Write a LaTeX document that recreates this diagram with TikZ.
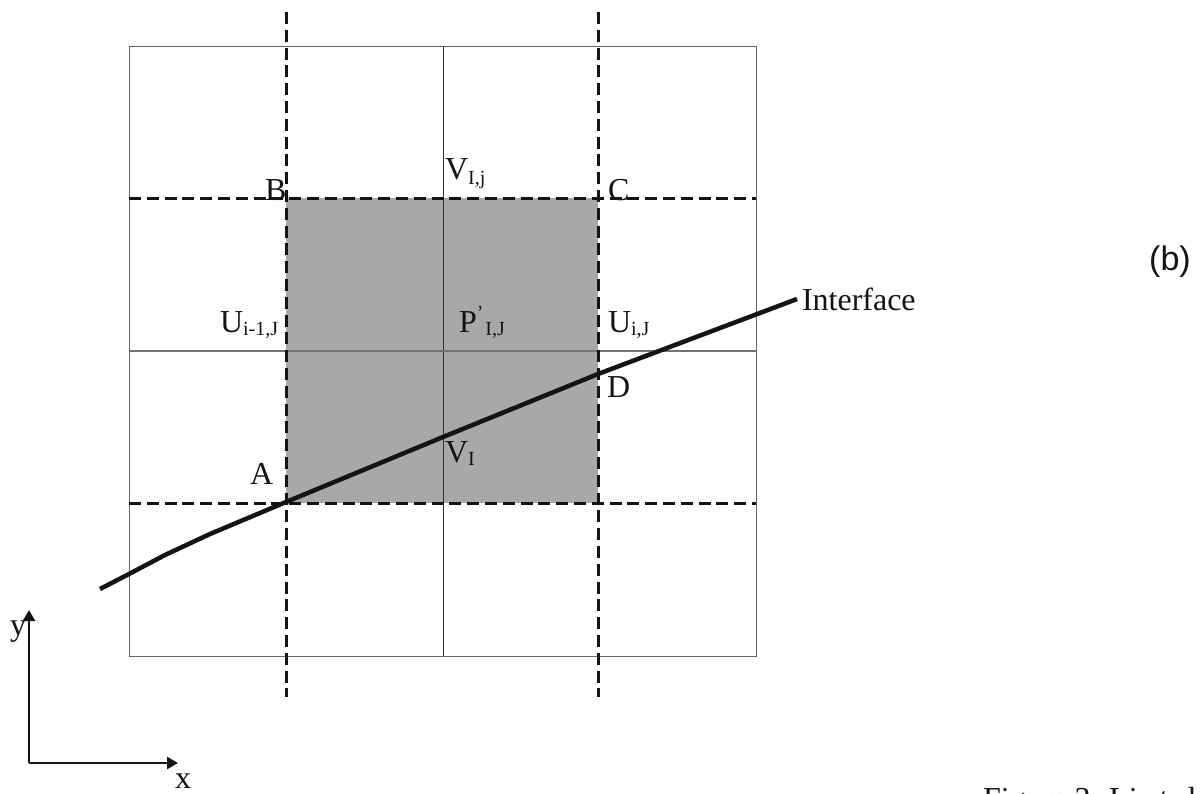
\documentclass[tikz,border=0pt]{standalone}
\usepackage{fontspec}
\setmainfont{Liberation Serif}
\newfontfamily\sansf{Liberation Sans}
\usetikzlibrary{arrows.meta}
\tikzset{
  lab/.style={inner sep=0pt,outer sep=0pt,text=black!92,font=\fontsize{32}{32}\selectfont,anchor=base west},
  outer line/.style={draw=black!60,line width=1pt},
  mid vert/.style={draw=black!80,line width=1pt},
  mid horz/.style={draw=black!55,line width=1.4pt},
  dash line/.style={draw=black!92,line width=3pt,dash pattern=on 12pt off 5.8pt},
  iface/.style={draw=black!92,line width=4.5pt,line join=round},
  axis/.style={draw=black!92,line width=2.8pt,-{Triangle[length=11pt,width=12pt]}}
}
\newcommand{\subs}[2]{\raisebox{-#1pt}{\fontsize{20}{20}\selectfont #2}}
\begin{document}
\begin{tikzpicture}[x=1pt,y=-1pt]
\useasboundingbox (0,0) rectangle (1202,793);
\clip (0,0) rectangle (1202,793);
\fill[white] (0,0) rectangle (1202,793);
% coordinates
\coordinate (gTL) at (129,46);
\coordinate (gBR) at (756,656);
\coordinate (vT) at (443,46);
\coordinate (vB) at (443,656);
\coordinate (hL) at (129,351);
\coordinate (hR) at (756,351);
\coordinate (dv1T) at (286,12);
\coordinate (dv1B) at (286,697);
\coordinate (dv2T) at (598,12);
\coordinate (dv2B) at (598,697);
\coordinate (dh1L) at (129,198);
\coordinate (dh1R) at (756,198);
\coordinate (dh2L) at (129,503);
\coordinate (dh2R) at (756,503);
\coordinate (cB) at (286,198);
\coordinate (cD) at (598,503);
% shaded cell
\fill[fill=black!34] (cB) rectangle (cD);
% grid
\draw[outer line] (gTL) rectangle (gBR);
\draw[mid vert] (vT) -- (vB);
\draw[mid horz] (hL) -- (hR);
% dashed
\draw[dash line] (dv1T) -- (dv1B);
\draw[dash line] (dv2T) -- (dv2B);
\draw[dash line] (dh1L) -- (dh1R);
\draw[dash line] (dh2L) -- (dh2R);
% interface
\coordinate (i0) at (100,589);
\coordinate (i1) at (129,574);
\coordinate (i2) at (165,555);
\coordinate (i3) at (210,534);
\coordinate (i4) at (286,502);
\coordinate (i5) at (443,437);
\coordinate (i6) at (598,374);
\coordinate (i7) at (797,299);
\draw[iface] (i0) -- (i1) -- (i2) -- (i3) -- (i4) -- (i5) -- (i6) -- (i7);
% labels
\node[lab] (lB) at (265,200) {B};
\node[lab] (lC) at (608,200) {C};
\node[lab] (lA) at (250,484) {A};
\node[lab] (lD) at (607,397) {D};
\node[lab] (lV) at (445,179) {V\subs{5}{I,j}};
\node[lab] (lVi) at (445,462) {V\subs{3}{I}};
\node[lab] (lUl) at (220,332) {U\subs{3}{i-1,J}};
\node[lab] (lUr) at (608,332) {U\subs{3}{i,J}};
\node[lab] (lP) at (459,332) {P\raisebox{13pt}{\fontsize{20}{20}\selectfont '}\hspace{2pt}\subs{3}{I,J}};
\node[lab] (lI) at (802,310) {Interface};
\node[lab] (ly) at (10,635) {y};
\node[lab] (lx) at (175,788) {x};
\node[inner sep=0pt,anchor=base west,font=\sansf\fontsize{34}{34}\selectfont,text=black!92] (lb) at (1149,270) {(b)};
\node[lab] (cap) at (983,809) {Figure 3. Li\hspace{22pt}t\hspace{11pt}d};
% axes
\coordinate (o) at (29,763);
\coordinate (ax) at (178,763);
\coordinate (ay) at (29,610);
\draw[axis] (o) -- (ax);
\draw[axis] (o) -- (ay);
\end{tikzpicture}
\end{document}
